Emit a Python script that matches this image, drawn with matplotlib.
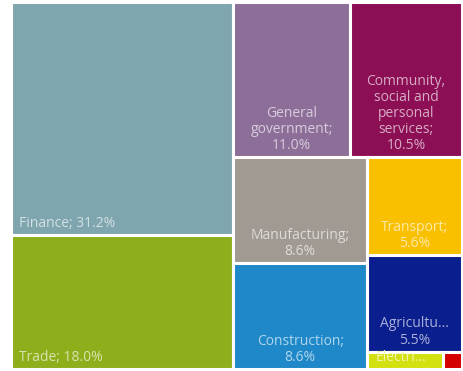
import matplotlib
matplotlib.use("Agg")
import matplotlib.pyplot as plt
from matplotlib.patches import Rectangle
from matplotlib.colors import to_rgb

# Share of value added by sector (%)
sectors = ["Finance", "Trade", "General government",
           "Community, social and personal services", "Manufacturing",
           "Construction", "Transport", "Agriculture",
           "Electricity", "Mining"]
shares = [31.2, 18.0, 11.0, 10.5, 8.6, 8.6, 5.6, 5.5, 0.8, 0.2]
labels = ["Finance; 31.2%", "Trade; 18.0%", "General\ngovernment;\n11.0%",
          "Community,\nsocial and\npersonal\nservices;\n10.5%",
          "Manufacturing;\n8.6%", "Construction;\n8.6%", "Transport;\n5.6%",
          "Agricultu...\n5.5%", "Electri...", ""]
colors = ["#7FA6AE", "#8FAE1B", "#8D6E98", "#8C0E55", "#A09A93",
          "#1E88C8", "#F9C000", "#0B1E8E", "#D2E10F", "#D40000"]
left_aligned = {"Finance", "Trade", "Electricity"}


def worst(row, length):
    s = sum(row)
    return max(max(length ** 2 * r / s ** 2, s ** 2 / (length ** 2 * r)) for r in row)


def squarify(areas, x, y, w, h):
    """Squarified treemap in a y-down frame; returns (x, y, w, h) per area."""
    rects = []
    areas = list(areas)
    while areas:
        length = min(w, h)
        row = [areas.pop(0)]
        while areas and worst(row + [areas[0]], length) <= worst(row, length):
            row.append(areas.pop(0))
        s = sum(row)
        if w >= h:
            cw = s / h
            cy = y
            for a in row:
                rh = a / cw
                rects.append((x, cy, cw, rh))
                cy += rh
            x += cw
            w -= cw
        else:
            rh = s / w
            cx = x
            for a in row:
                rw = a / rh
                rects.append((cx, y, rw, rh))
                cx += rw
            y += rh
            h -= rh
    return rects


W, H = 450.0, 367.0
total = sum(shares)
order = sorted(range(len(shares)), key=lambda i: -shares[i])
areas = [shares[i] / total * W * H for i in order]
rects = dict(zip(order, squarify(areas, 0, 0, W, H)))

fig = plt.figure(figsize=(4.63, 3.71), dpi=100)
ax = fig.add_axes([11 / 463, 2 / 371, 451 / 463, 367 / 371])
ax.set_xlim(0, W)
ax.set_ylim(H, 0)
ax.axis("off")

font = "Open Sans"
for i in range(len(shares)):
    rx, ry, rw, rh = rects[i]
    ax.add_patch(Rectangle((rx, ry), rw, rh, facecolor=colors[i],
                           edgecolor="white", linewidth=2.2))
    if not labels[i]:
        continue
    c = to_rgb(colors[i])
    tc = tuple(0.35 * v + 0.65 for v in c)
    if sectors[i] in left_aligned:
        tx, ha = rx + 8, "left"
    else:
        tx, ha = rx + rw / 2, "center"
    t = ax.text(tx, ry + rh - 4, labels[i], ha=ha, va="bottom",
                multialignment="center", color=tc, fontsize=10,
                family=font, linespacing=1.1)
    t.set_clip_path(Rectangle((rx, ry), rw, rh, transform=ax.transData))

fig.savefig("out.png", dpi=100)
